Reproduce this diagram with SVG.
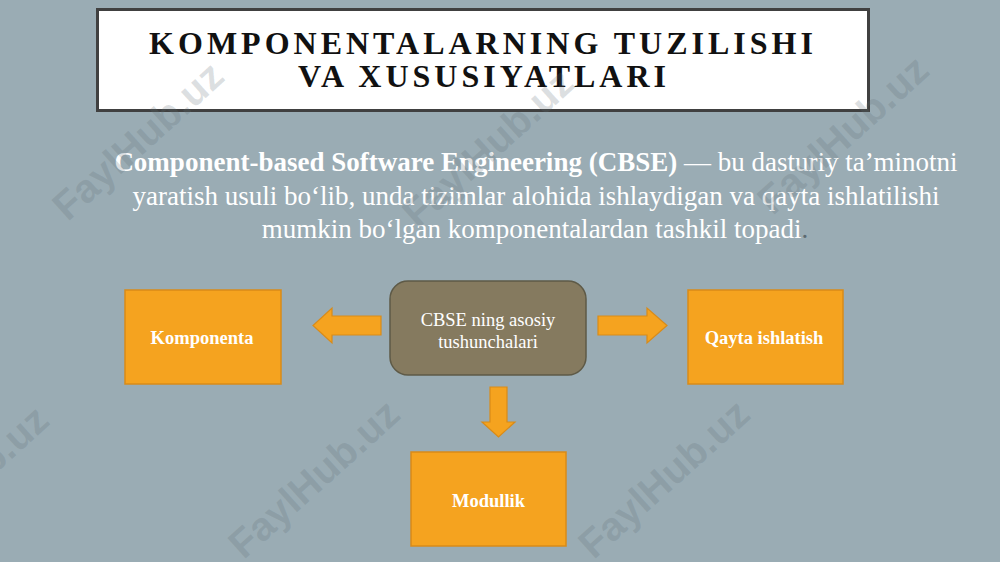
<svg xmlns="http://www.w3.org/2000/svg" width="1000" height="562" viewBox="0 0 1000 562">
<style>
.bg{fill:#9aacb4}
.wm{font-family:"Liberation Sans",Arial,sans-serif;font-weight:bold;font-size:40px;fill:#5f6f76;fill-opacity:0.22}
.title{font-family:"Liberation Serif","Times New Roman",serif;font-weight:bold;font-size:32px;fill:#111;letter-spacing:4px}
.para{font-family:"Liberation Serif","Times New Roman",serif;font-size:27px;fill:#ffffff}
.box{fill:#f5a31f;stroke:#d98b18;stroke-width:1.5}
.center{fill:#857a5f;stroke:#5e5a47;stroke-width:1.5}
.arrow{fill:#f5a31f;stroke:#d98b18;stroke-width:1.2}
.lbl{font-family:"Liberation Serif","Times New Roman",serif;font-size:18.5px;fill:#ffffff;text-anchor:middle}
.b{font-weight:bold}
</style>
<rect class="bg" x="0" y="0" width="1000" height="562"/>
<g id="title">
<rect x="97.5" y="9.5" width="771" height="101" fill="#ffffff" stroke="#404040" stroke-width="3"/>
<text class="title" x="483" y="54" text-anchor="middle">KOMPONENTALARNING TUZILISHI</text>
<text class="title" x="484" y="87" text-anchor="middle">VA XUSUSIYATLARI</text>
</g>
<g id="paragraph" class="para" text-anchor="middle">
<text x="536" y="171"><tspan font-weight="bold">Component-based Software Engineering (CBSE)</tspan> — bu dasturiy ta’minotni</text>
<text x="536" y="205">yaratish usuli bo‘lib, unda tizimlar alohida ishlaydigan va qayta ishlatilishi</text>
<text x="535" y="238">mumkin bo‘lgan komponentalardan tashkil topadi<tspan fill="#5d6a70">.</tspan></text>
</g>
<g id="connectors">
<path class="arrow" d="M381,316 L332,316 L332,308 L313,325.5 L332,343 L332,335 L381,335 Z"/>
<path class="arrow" d="M598,316 L647,316 L647,308 L667,325.5 L647,343 L647,335 L598,335 Z"/>
<path class="arrow" d="M490,387 L507,387 L507,422 L515,422 L498.5,437 L482,422 L490,422 Z"/>
</g>
<g id="node-center">
<rect class="center" x="390" y="281" width="196" height="94" rx="18" ry="18"/>
<text class="lbl" x="488" y="326">CBSE ning asosiy</text>
<text class="lbl" x="488" y="348">tushunchalari</text>
</g>
<g id="node-komponenta">
<rect class="box" x="125" y="290" width="156" height="94"/>
<text class="lbl b" x="202" y="344">Komponenta</text>
</g>
<g id="node-qayta">
<rect class="box" x="688" y="290" width="155" height="94"/>
<text class="lbl b" x="764" y="344">Qayta ishlatish</text>
</g>
<g id="node-modullik">
<rect class="box" x="411" y="452" width="155" height="94"/>
<text class="lbl b" x="488.5" y="507">Modullik</text>
</g>
<g id="watermarks">
<text class="wm" x="140" y="143" text-anchor="middle" dominant-baseline="middle" transform="rotate(-42 140 143)">FaylHub.uz</text>
<text class="wm" x="490" y="150" text-anchor="middle" dominant-baseline="middle" transform="rotate(-42 490 150)">FaylHub.uz</text>
<text class="wm" x="845" y="137" text-anchor="middle" dominant-baseline="middle" transform="rotate(-42 845 137)">FaylHub.uz</text>
<text class="wm" x="-35" y="487" text-anchor="middle" dominant-baseline="middle" transform="rotate(-42 -35 487)">FaylHub.uz</text>
<text class="wm" x="316" y="481" text-anchor="middle" dominant-baseline="middle" transform="rotate(-42 316 481)">FaylHub.uz</text>
<text class="wm" x="666" y="481" text-anchor="middle" dominant-baseline="middle" transform="rotate(-42 666 481)">FaylHub.uz</text>
</g>
</svg>
